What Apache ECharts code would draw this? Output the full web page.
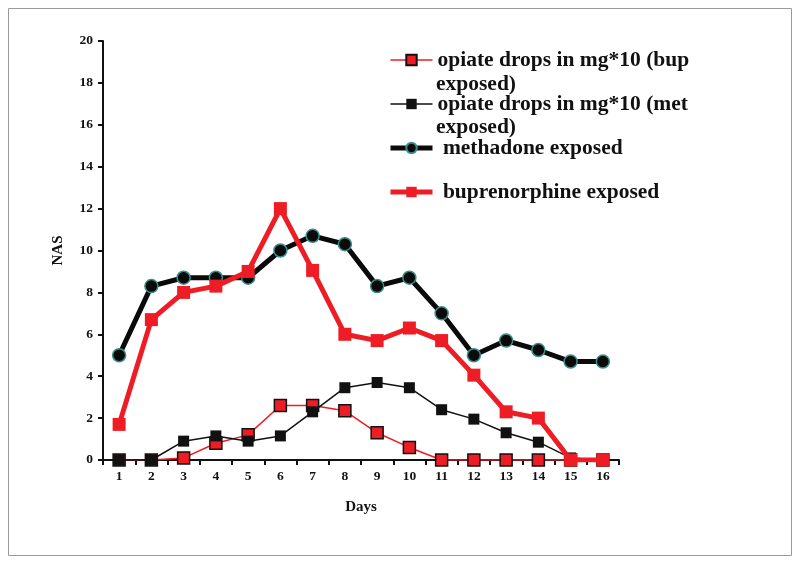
<!DOCTYPE html>
<html>
<head>
<meta charset="utf-8">
<script src="https://cdn.jsdelivr.net/npm/echarts@6/dist/echarts.min.js"></script>
<style>html,body{margin:0;padding:0;background:#fff;}#c{width:800px;height:565px;}</style>
</head>
<body>
<div id="c"></div>
<script>
const days = ['1','2','3','4','5','6','7','8','9','10','11','12','13','14','15','16'];
const yTicks = [0,2,4,6,8,10,12,14,16,18,20];
const bupDrops = [0,0,0.1,0.8,1.2,2.6,2.6,2.35,1.3,0.6,0,0,0,0,0,0];
const metDrops = [0,0,0.9,1.15,0.9,1.15,2.3,3.45,3.7,3.45,2.4,1.95,1.3,0.85,0.1,0];
const methadone = [5.0,8.3,8.7,8.7,8.7,10.0,10.7,10.3,8.3,8.7,7.0,5.0,5.7,5.25,4.7,4.7];
const buprenorphine = [1.7,6.7,8.0,8.3,9.0,12.0,9.05,6.0,5.7,6.3,5.7,4.05,2.3,2.0,0,0];
const names = ['opiate drops in mg*10 (bup exposed)','opiate drops in mg*10 (met exposed)','methadone exposed','buprenorphine exposed'];
const legendLabels = {};
legendLabels[names[0]] = 'opiate drops in mg*10 (bup';
legendLabels[names[1]] = 'opiate drops in mg*10 (met';
legendLabels[names[2]] = ' methadone exposed';
legendLabels[names[3]] = ' buprenorphine exposed';

const FONT = "'Liberation Serif','Times New Roman',serif";
const RED = '#ee1c24';
const chart = echarts.init(document.getElementById('c'), null, {renderer:'canvas'});
chart.setOption({
  backgroundColor:'#fff',
  animation:false,
  grid:{left:103, right:181, top:41, bottom:105},
  legend:{
    orient:'vertical', left:383, top:44, itemWidth:42, itemHeight:13, itemGap:22,
    selectedMode:false,
    data:[
      {name:names[0], lineStyle:{width:1.5}},
      {name:names[1], lineStyle:{width:1.5}},
      {name:names[2], lineStyle:{width:5}},
      {name:names[3], lineStyle:{width:5}}
    ],
    formatter: n => legendLabels[n],
    textStyle:{fontFamily:FONT, fontWeight:'bold', fontSize:21.5, color:'#111', lineHeight:22}
  },
  graphic:[
    {type:'rect', shape:{x:8.5,y:8.5,width:783,height:547}, style:{fill:'none', stroke:'#9a9a9a', lineWidth:1}, silent:true},
    {type:'text', left:436, top:73, style:{text:'exposed)', font:"bold 21.5px "+FONT, fill:'#111'}},
    {type:'text', left:436, top:116, style:{text:'exposed)', font:"bold 21.5px "+FONT, fill:'#111'}}
  ],
  xAxis:{
    type:'category', data:days, boundaryGap:true,
    name:'Days', nameLocation:'middle', nameGap:40,
    nameTextStyle:{fontFamily:FONT, fontWeight:'bold', fontSize:15, color:'#111'},
    axisLine:{lineStyle:{color:'#111', width:2}},
    axisTick:{show:true, length:5, lineStyle:{color:'#111', width:2}},
    axisLabel:{fontFamily:FONT, fontWeight:'bold', fontSize:13.5, color:'#111', margin:10},
    splitLine:{show:false}
  },
  yAxis:{
    type:'value', min:0, max:20, interval:2,
    name:'NAS', nameLocation:'middle', nameGap:37,
    nameTextStyle:{fontFamily:FONT, fontWeight:'bold', fontSize:15, color:'#111'},
    axisLine:{show:true, lineStyle:{color:'#111', width:2}},
    axisTick:{show:true, length:5, lineStyle:{color:'#111', width:2}},
    axisLabel:{fontFamily:FONT, fontWeight:'bold', fontSize:13.5, color:'#111', margin:10,
      formatter: v => yTicks.indexOf(v) >= 0 ? String(v) : ''},
    splitLine:{show:false}
  },
  series:[
    {name:names[0], type:'line', data:bupDrops, symbol:'rect', symbolSize:12,
     lineStyle:{color:RED, width:1.5}, itemStyle:{color:RED, borderColor:'#111', borderWidth:1.5}, z:2},
    {name:names[1], type:'line', data:metDrops, symbol:'rect', symbolSize:11,
     lineStyle:{color:'#111', width:1.5}, itemStyle:{color:'#111', borderColor:'#111', borderWidth:0}, z:3},
    {name:names[2], type:'line', data:methadone, symbol:'circle', symbolSize:13,
     lineStyle:{color:'#0a0a0a', width:5}, itemStyle:{color:'#0a0a0a', borderColor:'#3a8f8c', borderWidth:1.5}, z:4},
    {name:names[3], type:'line', data:buprenorphine, symbol:'rect', symbolSize:13,
     lineStyle:{color:RED, width:5}, itemStyle:{color:RED, borderWidth:0}, z:5}
  ]
});
</script>
</body>
</html>
